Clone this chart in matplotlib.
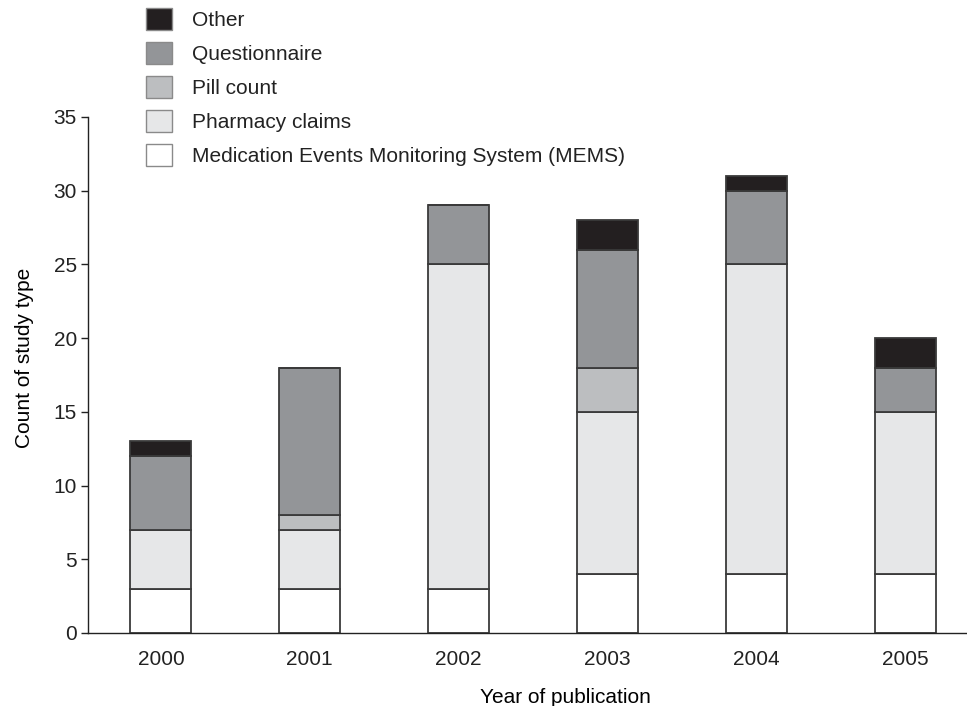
import numpy as np
import matplotlib.pyplot as plt
from matplotlib.patches import Patch

plt.rcParams['font.family'] = ['Liberation Sans', 'DejaVu Sans']
plt.rcParams['font.size'] = 15
plt.rcParams['text.color'] = '#222222'

# data
years = ['2000', '2001', '2002', '2003', '2004', '2005']
mems = [3, 3, 3, 4, 4, 4]
pharmacy = [4, 4, 22, 11, 21, 11]
pill = [0, 1, 0, 3, 0, 0]
questionnaire = [5, 10, 4, 8, 5, 3]
other = [1, 0, 0, 2, 1, 2]

series = [
    ('Medication Events Monitoring System (MEMS)', mems, '#ffffff'),
    ('Pharmacy claims', pharmacy, '#e6e7e8'),
    ('Pill count', pill, '#bcbec0'),
    ('Questionnaire', questionnaire, '#939598'),
    ('Other', other, '#231f20'),
]

fig = plt.figure(figsize=(9.67, 7.06), dpi=100)
ax = fig.add_axes([88 / 967, 73 / 706, 1 - 88 / 967, (633 - 117) / 706])

x = np.arange(len(years))
bottom = np.zeros(len(years))
for name, vals, col in series:
    vals = np.array(vals, dtype=float)
    ax.bar(x, vals, width=0.41, bottom=bottom, color=col,
           edgecolor='#3a3a3a', linewidth=1.3, zorder=2)
    bottom += vals

ax.set_xlim(-0.49, 5.416)
ax.set_ylim(0, 35)
ax.set_yticks(range(0, 36, 5))
ax.set_xticks(x)
ax.set_xticklabels(years)
ax.tick_params(axis='x', length=0, pad=12, labelcolor='#222222')
ax.tick_params(axis='y', direction='out', length=5, width=1, pad=3,
               color='#222222', labelcolor='#222222')
for s in ['top', 'right']:
    ax.spines[s].set_visible(False)
for s in ['left', 'bottom']:
    ax.spines[s].set_linewidth(1.0)
    ax.spines[s].set_color('#222222')

ax.set_ylabel('Count of study type')
ax.yaxis.set_label_coords(-0.062, 0.533)
ax.set_xlabel('Year of publication')
ax.xaxis.set_label_coords(0.543, -0.107)

handles = [Patch(facecolor=col, edgecolor='#8a8a8a', linewidth=1.0, label=name)
           for name, vals, col in reversed(series)]
fig.legend(handles=handles, loc='upper left',
           bbox_to_anchor=(146 / 967, 1 - 8 / 706), frameon=False,
           borderpad=0, borderaxespad=0, handlelength=1.25,
           handleheight=1.25, handletextpad=0.96, labelspacing=0.58)

fig.savefig('out.png', dpi=100)
